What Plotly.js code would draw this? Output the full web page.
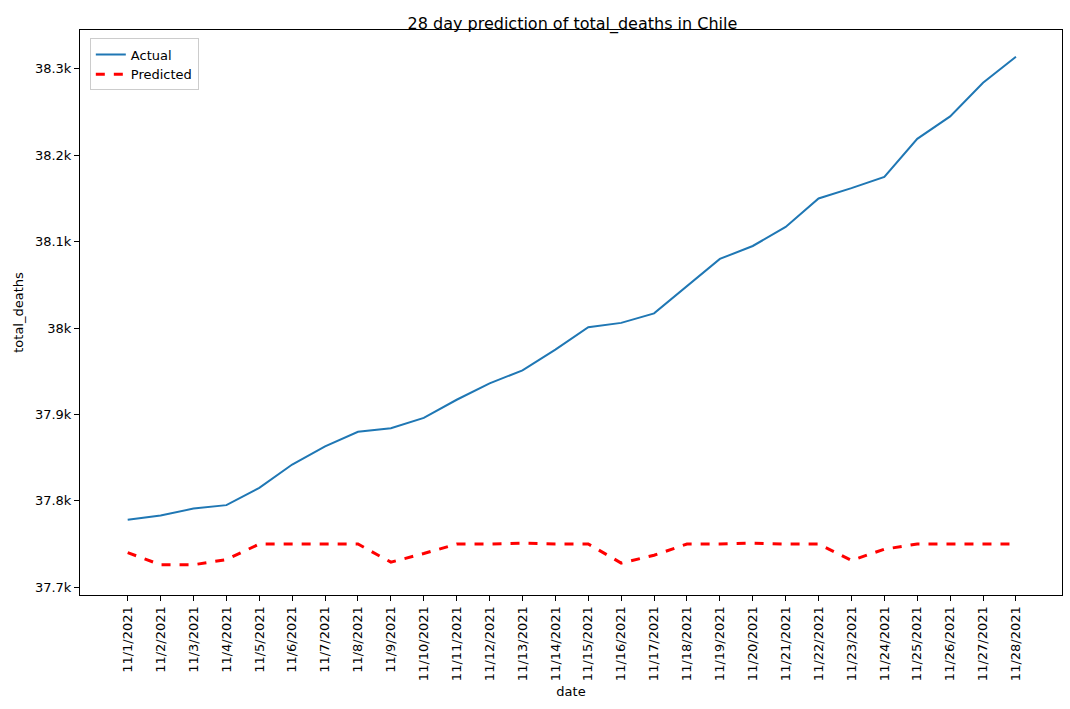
<!DOCTYPE html>
<html>
<head>
<meta charset="utf-8">
<script src="https://cdn.plot.ly/plotly-3.0.1.min.js"></script>
<style>html,body{margin:0;padding:0;background:#fff}#chart{width:1070px;height:709px}</style>
</head>
<body>
<div id="chart"></div>
<script>
const dates = [];
for (let d = 1; d <= 28; d++) dates.push(`11/${d}/2021`);

const actual = [37778, 37783, 37791, 37795, 37815, 37842, 37863, 37880, 37884, 37896,
  37917, 37936, 37951, 37975, 38001, 38006, 38017, 38049, 38080, 38095,
  38117, 38150, 38162, 38175, 38219, 38245, 38284, 38314];

const predicted = [37740, 37726, 37726, 37732, 37750, 37750, 37750, 37750, 37729, 37739,
  37750, 37750, 37751, 37750, 37750, 37728, 37737, 37750, 37750, 37751,
  37750, 37750, 37731, 37744, 37750, 37750, 37750, 37750];

const axisFont = { family: "DejaVu Sans, sans-serif", size: 13, color: "#000" };

const traces = [
  {
    x: dates, y: actual, name: "Actual", mode: "lines",
    line: { color: "#1f77b4", width: 2 },
  },
  {
    x: dates, y: predicted, name: "Predicted", mode: "lines",
    line: { color: "#ff0000", width: 3, dash: "dash" },
  },
];

const layout = {
  width: 1070, height: 709,
  margin: { l: 80, r: 8, t: 30, b: 114 },
  paper_bgcolor: "#fff", plot_bgcolor: "#fff",
  font: axisFont,
  title: { text: "28 day prediction of total_deaths in Chile", font: { size: 16, color: "#000" }, x: 0.535, y: 0.975 },
  showlegend: true,
  legend: {
    x: 0.01, y: 0.985, xanchor: "left", yanchor: "top",
    bordercolor: "#cccccc", borderwidth: 1, bgcolor: "rgba(255,255,255,0.8)",
    font: { size: 13 },
  },
  xaxis: {
    type: "category", range: [-1.45, 28.4],
    tickangle: -90, ticks: "outside", ticklen: 5, tickcolor: "#000",
    showgrid: false, showline: true, linecolor: "#000", mirror: true, zeroline: false,
    title: { text: "date", font: { size: 13 }, standoff: 6 },
    tickfont: { size: 13 },
  },
  yaxis: {
    range: [37691, 38345],
    tickvals: [37700, 37800, 37900, 38000, 38100, 38200, 38300],
    ticks: "outside", ticklen: 5, tickcolor: "#000",
    showgrid: false, showline: true, linecolor: "#000", mirror: true, zeroline: false,
    title: { text: "total_deaths", font: { size: 13 }, standoff: 8 },
    tickfont: { size: 13 },
  },
};

Plotly.newPlot("chart", traces, layout, { displayModeBar: false, staticPlot: true });
</script>
</body>
</html>
